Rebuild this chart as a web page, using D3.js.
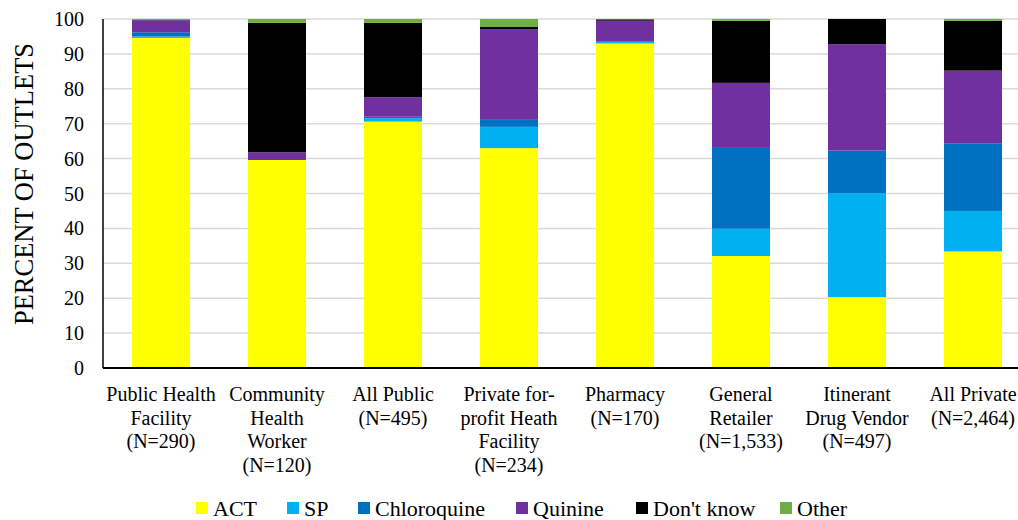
<!DOCTYPE html>
<html><head><meta charset="utf-8">
<script src="https://cdn.jsdelivr.net/npm/d3@7"></script>
<style>body{margin:0;background:#fff}svg{display:block}svg text{font-family:"Liberation Serif","Times New Roman","DejaVu Serif",serif}</style>
</head><body><svg id="c" width="1018" height="520"></svg>
<script>
const categories = [
  ["Public Health","Facility","(N=290)"],
  ["Community","Health","Worker","(N=120)"],
  ["All Public","(N=495)"],
  ["Private for-","profit Heath","Facility","(N=234)"],
  ["Pharmacy","(N=170)"],
  ["General","Retailer","(N=1,533)"],
  ["Itinerant","Drug Vendor","(N=497)"],
  ["All Private","(N=2,464)"]
];
const seriesNames = ["ACT","SP","Chloroquine","Quinine","Don't know","Other"];
const seriesColors = ["#FFFF00","#00B0F0","#0070C0","#7030A0","#000000","#70AD47"];
const ACT       = [94.6, 59.6, 70.6, 63.0, 93.0, 32.1, 20.3, 33.4];
const SP        = [0.4,  0.0,  0.9,  6.1,  0.5,  7.8,  29.8, 11.6];
const Chloroquine=[1.2,  0.0,  0.5,  2.0,  0.0,  23.4, 12.2, 19.4];
const Quinine   = [3.4,  2.2,  5.6,  25.9, 6.0,  18.4, 30.5, 20.8];
const DontKnow  = [0.1,  37.1, 21.3, 0.7,  0.4,  17.8, 7.2,  14.3];
const Other     = [0.3,  1.1,  1.1,  2.3,  0.1,  0.5,  0.0,  0.5];
const yTicks = [0,10,20,30,40,50,60,70,80,90,100];
const seriesValues = [ACT, SP, Chloroquine, Quinine, DontKnow, Other];

const svg = d3.select("#c");
const mLeft = 103, mBottom = 368, mTop = 19;
const x = d3.scaleBand().domain(d3.range(categories.length)).range([mLeft, mLeft + 116*categories.length]).paddingInner(0.5).paddingOuter(0.25);
const y = d3.scaleLinear().domain([0,100]).range([mBottom, mTop]);

// gridlines
svg.append("g").selectAll("line").data(yTicks.filter(t=>t>0)).join("line")
  .attr("x1", mLeft).attr("x2", 1018).attr("y1", d=>y(d)).attr("y2", d=>y(d))
  .attr("stroke", "#d9d9d9").attr("stroke-width", 1.5);

// stacked data
const rows = categories.map((c,i)=>{const o={i}; seriesNames.forEach((s,k)=>o[s]=seriesValues[k][i]); return o;});
const stack = d3.stack().keys(seriesNames)(rows);
svg.append("g").selectAll("g").data(stack).join("g")
  .attr("fill", (d,k)=>seriesColors[k])
  .selectAll("rect").data(d=>d).join("rect")
  .attr("x", d=>x(d.data.i)).attr("width", x.bandwidth())
  .attr("y", d=>y(d[1])).attr("height", d=>Math.max(0, y(d[0])-y(d[1])));

// axes lines
svg.append("line").attr("x1", mLeft).attr("x2", mLeft).attr("y1", mTop).attr("y2", mBottom).attr("stroke","#000").attr("stroke-width",1.5);
svg.append("line").attr("x1", mLeft).attr("x2", 1018).attr("y1", mBottom).attr("y2", mBottom).attr("stroke","#000").attr("stroke-width",2);

// y tick labels
svg.append("g").selectAll("text").data(yTicks).join("text")
  .attr("x", 84).attr("y", d=>y(d)).attr("dy","0.35em").attr("text-anchor","end")
  .style("font-size", "20px").text(d=>d);

// y title
svg.append("text").attr("transform","translate(33,184) rotate(-90)").attr("text-anchor","middle")
  .style("font-size", "26.5px").text("PERCENT OF OUTLETS");

// category labels
const cg = svg.append("g").selectAll("text").data(categories).join("text")
  .attr("text-anchor","middle").style("font-size", "20px");
cg.selectAll("tspan").data((d,i)=>d.map(l=>({l,i}))).join("tspan")
  .attr("x", d=>x(d.i)+x.bandwidth()/2).attr("y", (d,j)=>401 + j*23.5).text(d=>d.l);

// legend
const legX = [196, 287, 358, 516, 636, 780];
const lg = svg.append("g").selectAll("g").data(seriesNames).join("g")
  .attr("transform",(d,k)=>`translate(${legX[k]},508)`);
lg.append("rect").attr("x",0).attr("y",-6).attr("width",12).attr("height",12).attr("fill",(d,k)=>seriesColors[k]);
lg.append("text").attr("x",17).attr("y",0).attr("dy","0.35em").style("font-size","22px").text(d=>d);
</script></body></html>
